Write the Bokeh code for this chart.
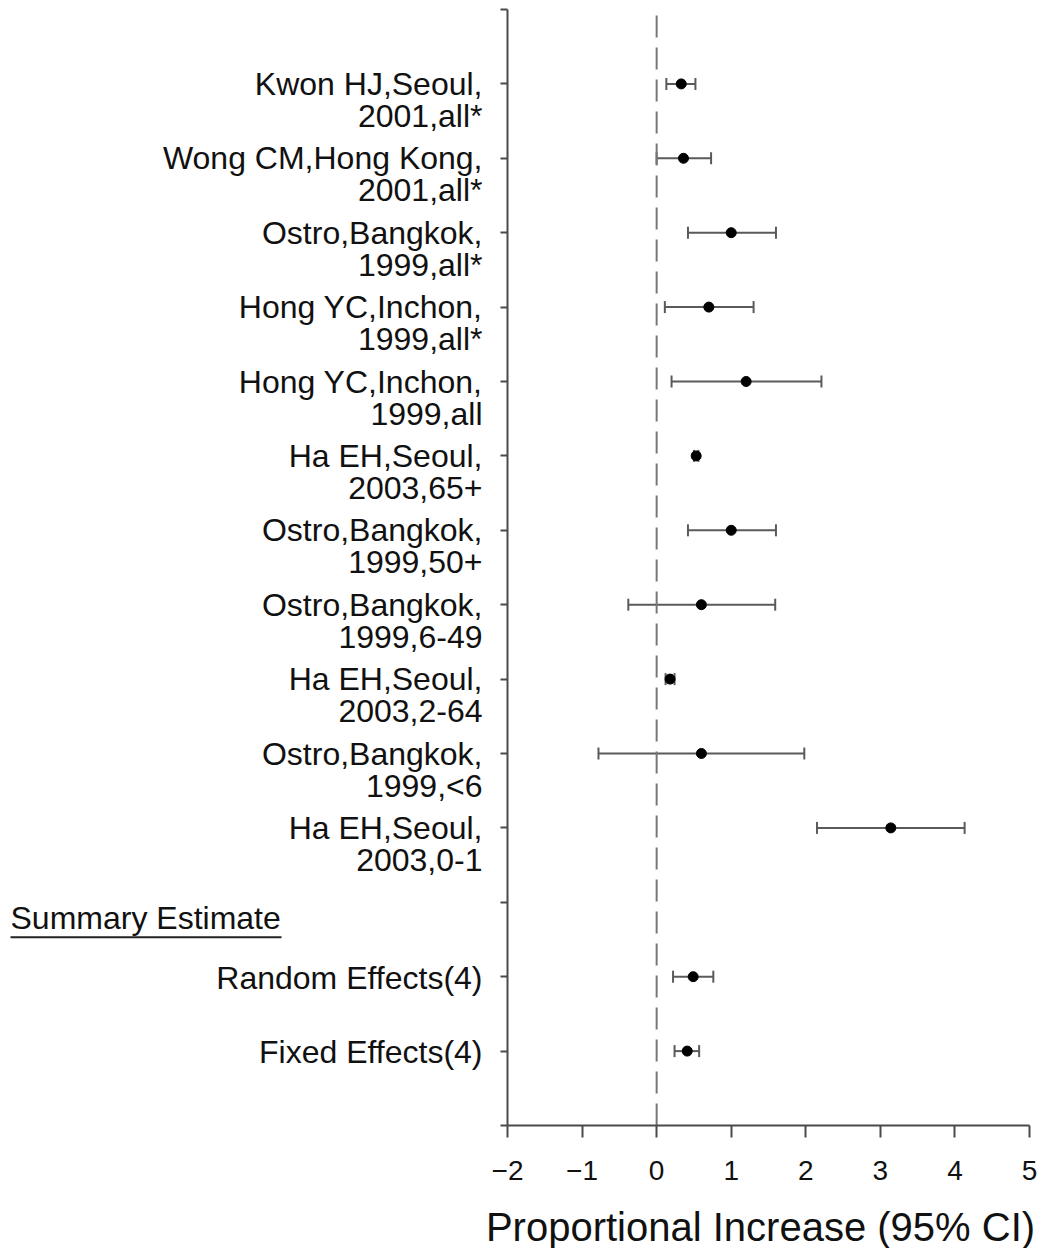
from bokeh.plotting import figure
from bokeh.models import (ColumnDataSource, Range1d, FixedTicker, Whisker, TeeHead)
from bokeh.core.properties import value
from bokeh.embed import file_html
from bokeh.resources import INLINE

# ---------------- data ----------------
study_line1 = ["Kwon HJ,Seoul,", "Wong CM,Hong Kong,", "Ostro,Bangkok,", "Hong YC,Inchon,",
               "Hong YC,Inchon,", "Ha EH,Seoul,", "Ostro,Bangkok,", "Ostro,Bangkok,",
               "Ha EH,Seoul,", "Ostro,Bangkok,", "Ha EH,Seoul,"]
study_line2 = ["2001,all*", "2001,all*", "1999,all*", "1999,all*", "1999,all", "2003,65+",
               "1999,50+", "1999,6-49", "2003,2-64", "1999,<6", "2003,0-1"]
study_est = [0.33, 0.36, 1.00, 0.70, 1.20, 0.53, 1.00, 0.60, 0.18, 0.60, 3.14]
study_lo = [0.13, 0.00, 0.42, 0.11, 0.20, 0.50, 0.42, -0.38, 0.12, -0.78, 2.15]
study_hi = [0.52, 0.73, 1.60, 1.30, 2.21, 0.56, 1.60, 1.59, 0.24, 1.98, 4.13]

summary_heading = "Summary Estimate"
summary_labels = ["Random Effects(4)", "Fixed Effects(4)"]
summary_est = [0.49, 0.41]
summary_lo = [0.22, 0.24]
summary_hi = [0.76, 0.57]

x_ticks = [-2, -1, 0, 1, 2, 3, 4, 5]
x_tick_labels = ["\u22122", "\u22121", "0", "1", "2", "3", "4", "5"]
x_title = "Proportional Increase (95% CI)"

# ---------------- layout ----------------
W, H = 1058, 1248
AX_XMIN, AX_XMAX = -2, 5          # drawn x-axis extent
AX_YMIN, AX_YMAX = 0, 15          # drawn y-axis extent
PX_XMIN, PX_XMAX = 507, 1029      # pixel columns of the axis ends
PY_YMIN, PY_YMAX = 1125, 9        # pixel rows of the axis ends
ppx = (PX_XMAX - PX_XMIN) / (AX_XMAX - AX_XMIN)
ppy = (PY_YMIN - PY_YMAX) / (AX_YMAX - AX_YMIN)


def xd(px):
    return AX_XMIN + (px - PX_XMIN) / ppx


def yd(py):
    return AX_YMIN + (PY_YMIN - py) / ppy


n = len(study_est)
study_rows = list(range(14, 14 - n, -1))      # 14 .. 4
summary_rows = [2, 1]
heading_row = 3

FONT = "Liberation Sans"
FS = "32px"
AX = "#4a4a4a"
BAR = "#5a5a5a"
TXT = "#111111"

p = figure(width=W, height=H, output_backend="svg", toolbar_location=None,
           x_range=Range1d(xd(0), xd(W)), y_range=Range1d(yd(H), yd(0)),
           min_border=0, min_border_left=0, min_border_right=0,
           min_border_top=0, min_border_bottom=0)
p.outline_line_color = None
p.grid.visible = False
p.background_fill_color = "white"
p.border_fill_color = "white"

# x axis, crossing at y = 0
p.xaxis.fixed_location = AX_YMIN
p.xaxis.bounds = (AX_XMIN, AX_XMAX)
p.xaxis.ticker = FixedTicker(ticks=x_ticks)
p.xaxis.major_label_overrides = {t: s for t, s in zip(x_ticks, x_tick_labels)}
p.xaxis.axis_line_color = AX
p.xaxis.axis_line_width = 2
p.xaxis.major_tick_line_color = AX
p.xaxis.major_tick_line_width = 2
p.xaxis.major_tick_out = 12
p.xaxis.major_tick_in = 0
p.xaxis.minor_tick_line_color = None
p.xaxis.major_label_text_font = FONT
p.xaxis.major_label_text_font_size = "28px"
p.xaxis.major_label_text_color = TXT
p.xaxis.major_label_standoff = 23

# y axis (ticks only), crossing at x = -2
y_ticks = list(range(AX_YMIN, AX_YMAX + 1))
p.yaxis.fixed_location = AX_XMIN
p.yaxis.bounds = (AX_YMIN, AX_YMAX)
p.yaxis.ticker = FixedTicker(ticks=y_ticks)
p.yaxis.major_label_overrides = {t: "" for t in y_ticks}
p.yaxis.axis_line_color = AX
p.yaxis.axis_line_width = 2
p.yaxis.major_tick_line_color = AX
p.yaxis.major_tick_line_width = 2
p.yaxis.major_tick_out = 7
p.yaxis.major_tick_in = 0
p.yaxis.minor_tick_line_color = None
p.yaxis.major_label_standoff = 0

# zero reference line
p.segment(x0=[0], y0=[AX_YMIN], x1=[0], y1=[AX_YMAX], line_color="#777777",
          line_width=2, line_dash="22 10")

# estimates with confidence intervals
src = ColumnDataSource(dict(
    y=study_rows + summary_rows,
    est=study_est + summary_est,
    lo=study_lo + summary_lo,
    hi=study_hi + summary_hi,
))
p.add_layout(Whisker(source=src, base="y", lower="lo", upper="hi", dimension="width",
                     line_color=BAR, line_width=2, level="underlay",
                     lower_head=TeeHead(size=12, line_color=BAR, line_width=2),
                     upper_head=TeeHead(size=12, line_color=BAR, line_width=2)))
p.scatter(x="est", y="y", source=src, size=10, marker="circle",
          fill_color="black", line_color="black")

# row labels (two lines each)
lab_src = ColumnDataSource(dict(
    x=[AX_XMIN] * n,
    y1=[r for r in study_rows],
    y2=[r - 32 / ppy for r in study_rows],
    t1=study_line1,
    t2=study_line2,
))
for ycol, tcol in (("y1", "t1"), ("y2", "t2")):
    p.text(x="x", y=ycol, text=tcol, source=lab_src, x_offset=-25,
           text_align="right", text_baseline="middle",
           text_font=value(FONT), text_font_size=value(FS), text_color=TXT)

sum_src = ColumnDataSource(dict(
    x=[AX_XMIN] * len(summary_rows),
    y=[r - 1 / ppy for r in summary_rows],
    t=summary_labels,
))
p.text(x="x", y="y", text="t", source=sum_src, x_offset=-25,
       text_align="right", text_baseline="middle",
       text_font=value(FONT), text_font_size=value(FS), text_color=TXT)

# summary heading with underline
head_x = xd(10)
p.text(x=[head_x], y=[heading_row - 16 / ppy], text=[summary_heading],
       text_align="left", text_baseline="middle",
       text_font=value(FONT), text_font_size=value(FS), text_color=TXT)
head_w = 271
p.segment(x0=[head_x], y0=[heading_row - 35 / ppy], x1=[head_x + head_w / ppx],
          y1=[heading_row - 35 / ppy], line_color="#222222", line_width=2)

# x axis title
p.text(x=[xd(760)], y=[yd(1226)], text=[x_title], text_align="center",
       text_baseline="middle", text_font=value(FONT),
       text_font_size=value("40px"), text_color=TXT)

open("out.html", "w").write(file_html(p, INLINE))
